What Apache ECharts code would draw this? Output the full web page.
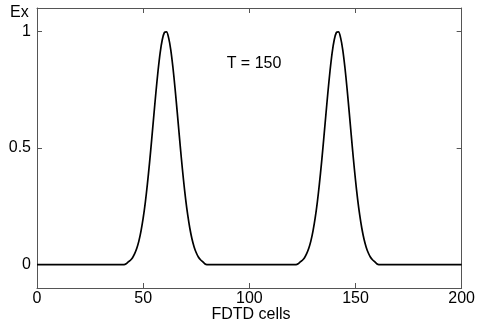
<!DOCTYPE html>
<html>
<head>
<meta charset="utf-8">
<script src="https://cdn.jsdelivr.net/npm/echarts@6/dist/echarts.min.js"></script>
<style>html,body{margin:0;padding:0;background:#fff}#c{width:478px;height:335px}</style>
</head>
<body>
<div id="c"></div>
<script>
// Field values (cell, Ex)
const cells = [0, 41, 42, 43, 44, 45, 46, 47, 48, 49, 50, 51, 52, 53, 54, 55, 56, 57, 58, 59, 60, 61, 62, 63, 64, 65, 66, 67, 68, 69, 70, 71, 72, 73, 74, 75, 76, 77, 78, 79, 80,
  122, 123, 124, 125, 126, 127, 128, 129, 130, 131, 132, 133, 134, 135, 136, 137, 138, 139, 140, 141, 142, 143, 144, 145, 146, 147, 148, 149, 150, 151, 152, 153, 154, 155, 156, 157, 158, 159, 160, 161, 200];
const ex = [0, 0, 0.004, 0.012, 0.019, 0.030, 0.047, 0.070, 0.102, 0.145, 0.199, 0.266, 0.346, 0.436, 0.535, 0.637, 0.738, 0.830, 0.908, 0.964, 0.995, 0.998, 0.972, 0.921, 0.847, 0.757, 0.658, 0.555, 0.455, 0.363, 0.281, 0.212, 0.155, 0.110, 0.076, 0.051, 0.033, 0.021, 0.013, 0.004, 0,
  0, 0.004, 0.012, 0.019, 0.030, 0.047, 0.070, 0.102, 0.145, 0.199, 0.266, 0.346, 0.436, 0.535, 0.637, 0.738, 0.830, 0.908, 0.964, 0.995, 0.998, 0.972, 0.921, 0.847, 0.757, 0.658, 0.555, 0.455, 0.363, 0.281, 0.212, 0.155, 0.110, 0.076, 0.051, 0.033, 0.021, 0.013, 0.004, 0, 0];
const xTicks = [0, 50, 100, 150, 200];
const yTicks = [0, 0.5, 1];
const yLabels = ['0', '0.5', '1'];

const chart = echarts.init(document.getElementById('c'), null, {renderer: 'canvas'});
const font = 'Liberation Sans, Arial, sans-serif';
const axisCol = '#555';
const data = cells.map((c, i) => [c, ex[i]]);
const line = {show: true, onZero: false, lineStyle: {color: axisCol, width: 1}};
chart.setOption({
  animation: false,
  grid: {left: 37, right: 15, top: 8, bottom: 47, containLabel: false},
  xAxis: [{
    type: 'value', min: 0, max: 200, interval: 50, position: 'bottom',
    axisLine: line,
    axisTick: {show: true, inside: true, length: 5, lineStyle: {color: axisCol}},
    axisLabel: {color: '#000', fontSize: 16, fontFamily: font, margin: 3},
    splitLine: {show: false}
  }, {
    type: 'value', min: 0, max: 200, interval: 50, position: 'top',
    axisLine: line,
    axisTick: {show: true, inside: true, length: 5, lineStyle: {color: axisCol}},
    axisLabel: {show: false}, splitLine: {show: false}
  }],
  yAxis: [{
    type: 'value', min: -0.1, max: 1.1, position: 'left',
    axisLine: line,
    axisTick: {show: true, inside: true, length: 5, customValues: yTicks, lineStyle: {color: axisCol}},
    axisLabel: {color: '#000', fontSize: 16, fontFamily: font, margin: 6, customValues: yTicks,
      formatter: v => yLabels[yTicks.indexOf(v)] !== undefined ? yLabels[yTicks.indexOf(v)] : String(v)},
    splitLine: {show: false}
  }, {
    type: 'value', min: -0.1, max: 1.1, position: 'right',
    axisLine: line,
    axisTick: {show: true, inside: true, length: 5, customValues: yTicks, lineStyle: {color: axisCol}},
    axisLabel: {show: false}, splitLine: {show: false}
  }],
  series: [{
    type: 'line', data: data, xAxisIndex: 0, yAxisIndex: 0,
    showSymbol: false, smooth: 0.3,
    lineStyle: {color: '#000', width: 1.7}
  }],
  graphic: [
    {type: 'text', left: 10, top: 5, style: {text: 'Ex', font: '16px ' + font, fill: '#000'}},
    {type: 'text', x: 251, y: 315, style: {text: 'FDTD cells', font: '16px ' + font, fill: '#000', textAlign: 'center', textVerticalAlign: 'middle'}},
    {type: 'text', x: 254, y: 64, style: {text: 'T = 150', font: '16px ' + font, fill: '#000', textAlign: 'center', textVerticalAlign: 'middle'}}
  ]
});
</script>
</body>
</html>
